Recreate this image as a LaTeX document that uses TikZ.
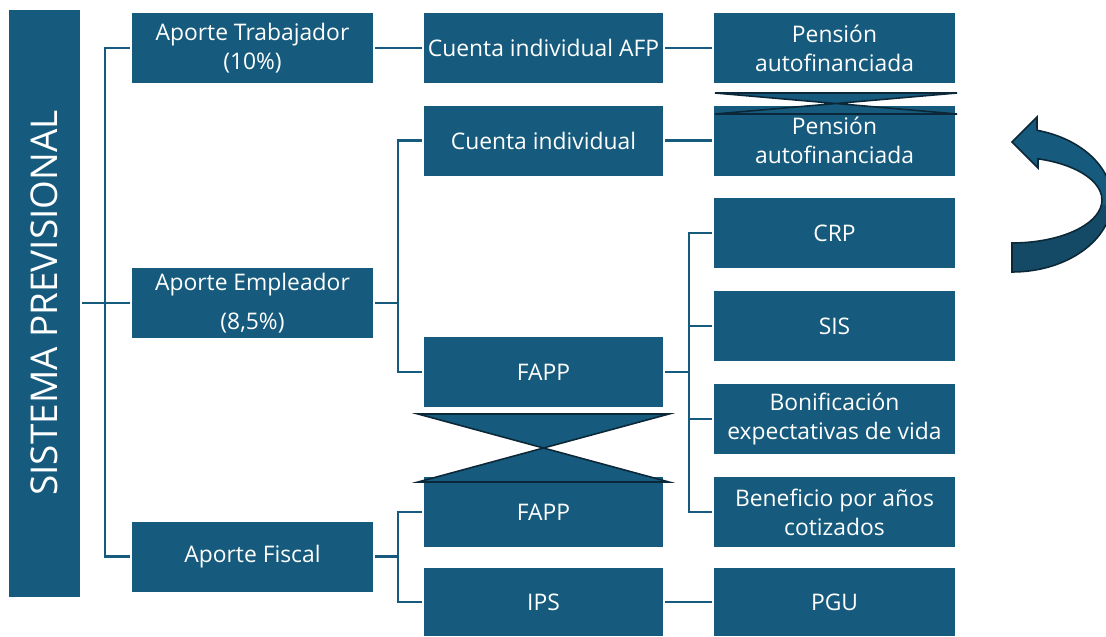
\documentclass[tikz,border=0pt]{standalone}
\usepackage{fontspec}
\setmainfont{Open Sans}
\definecolor{boxblue}{RGB}{22,91,125}
\definecolor{darkblue}{RGB}{20,74,102}
\definecolor{edgeblue}{RGB}{12,40,56}
\begin{document}
\begin{tikzpicture}[x=0.02cm,y=-0.02cm,
  box/.style={fill=boxblue,text=white,minimum width=241*0.02cm,minimum height=70*0.02cm,
    inner sep=0pt,outer sep=1.2pt,align=center,font=\fontsize{13}{16.5}\selectfont},
  conn/.style={draw=boxblue,line width=1.3pt},
  hglass/.style={fill=boxblue,draw=edgeblue,line width=0.9pt,line join=miter}]
\clip (0,0) rectangle (1106,636);
\fill[white] (0,0) rectangle (1106,636);
% column 0
\node[box,minimum width=71*0.02cm,minimum height=587*0.02cm] (sys) at (44.5,303)
  {\rotatebox{90}{\fontsize{21}{24}\selectfont SISTEMA PREVISIONAL}};
% column 1
\node[box] (trab) at (252.5,48) {Aporte Trabajador\\(10\%)};
\node[box,font=\fontsize{13}{22}\selectfont] (emp) at (252.5,303) {Aporte Empleador\\(8,5\%)};
\node[box] (fis) at (252.5,556.5) {Aporte Fiscal};
% column 2
\node[box,minimum width=239*0.02cm] (afp) at (543.5,48) {Cuenta individual AFP};
\node[box,minimum width=239*0.02cm] (cind) at (543.5,140.5) {Cuenta individual};
\node[box,minimum width=239*0.02cm] (fapp) at (543.5,372) {FAPP};
\node[box,minimum width=239*0.02cm] (fapp2) at (543.5,512) {FAPP};
\node[box,minimum width=239*0.02cm,minimum height=68*0.02cm] (ips) at (543.5,602) {IPS};
% column 3
\node[box] (pen1) at (834.5,48) {Pensión\\autofinanciada};
\node[box] (pen2) at (834.5,140.5) {Pensión\\autofinanciada};
\node[box] (crp) at (834.5,233) {CRP};
\node[box] (sis) at (834.5,326) {SIS};
\node[box] (bon) at (834.5,419) {Bonificación\\expectativas de vida};
\node[box] (ben) at (834.5,512) {Beneficio por años\\cotizados};
\node[box,minimum height=68*0.02cm] (pgu) at (834.5,602) {PGU};
% bus positions
\coordinate (b1) at (105,0);
\coordinate (b2) at (398,0);
\coordinate (b3) at (689,0);
% connectors
\draw[conn] (sys.east) -- (emp.west);
\draw[conn] (trab.west) -- (trab.west -| b1) |- (fis.west);
\draw[conn] (trab.east) -- (afp.west);
\draw[conn] (afp.east) -- (pen1.west);
\draw[conn] (emp.east) -- (emp.east -| b2);
\draw[conn] (cind.west) -- (cind.west -| b2) |- (fapp.west);
\draw[conn] (cind.east) -- (pen2.west);
\draw[conn] (fapp.east) -- (fapp.east -| b3);
\draw[conn] (crp.west) -- (crp.west -| b3) |- (ben.west);
\draw[conn] (sis.west) -- (sis.west -| b3);
\draw[conn] (bon.west) -- (bon.west -| b3);
\draw[conn] (fis.east) -- (fis.east -| b2);
\draw[conn] (fapp2.west) -- (fapp2.west -| b2) |- (ips.west);
\draw[conn] (ips.east) -- (pgu.west);
% crossed-out markers
\draw[hglass] (715,93) -- (957,114) -- (715,114) -- (957,93) -- cycle;
\draw[hglass] (418,414) -- (669,482) -- (418,482) -- (669,414) -- cycle;
% curved arrow
\path[save path=\arrowpath] (1012,272) arc[start angle=90,end angle=-75.5,x radius=100,y radius=72]
  -- (1037,117) -- (1012,142) -- (1038,168) -- (1038,158.8)
  arc[start angle=-73.2,end angle=90,x radius=90,y radius=43] -- cycle;
\fill[boxblue,use path=\arrowpath];
\begin{scope}
\clip (990,205) rectangle (1106,290);
\fill[darkblue,use path=\arrowpath];
\end{scope}
\draw[edgeblue,line width=0.9pt,use path=\arrowpath];
\end{tikzpicture}
\end{document}
